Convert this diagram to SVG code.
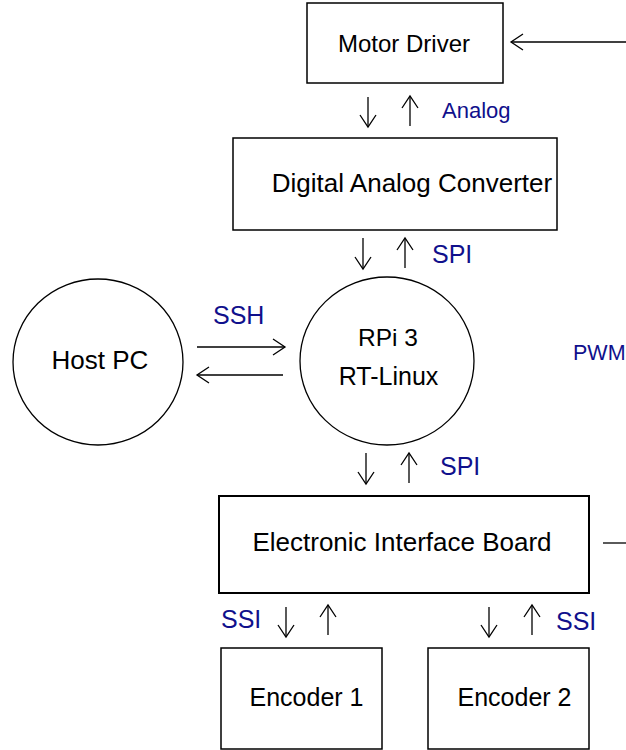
<svg xmlns="http://www.w3.org/2000/svg" width="626" height="750" viewBox="0 0 626 750">
  <style>
    .box { fill: #ffffff; stroke: #000000; stroke-width: 1.5; }
    .thick { stroke-width: 2; }
    .circ { fill: #ffffff; stroke: #000000; stroke-width: 1.3; }
    .lbl { font-family: "Liberation Sans", Arial, sans-serif; fill: #000000; }
    .sig { font-family: "Liberation Sans", Arial, sans-serif; fill: #10108c; }
    .mid { text-anchor: middle; }
    .wire { stroke: #000000; stroke-width: 1.3; fill: none; }
    .arr { marker-end: url(#head); }
  </style>
  <defs>
    <marker id="head" markerUnits="userSpaceOnUse" markerWidth="20" markerHeight="20" viewBox="-14 -10 16 20" refX="0" refY="0" orient="auto">
      <path d="M -12 -8 L 0 0 L -12 8" fill="none" stroke="#000000" stroke-width="1.3"/>
    </marker>
  </defs>
  <rect width="626" height="750" fill="#ffffff"/>

  <g id="motor-driver">
    <rect class="box" x="307" y="3" width="196" height="80"/>
    <text class="lbl mid" x="404" y="52" font-size="24">Motor Driver</text>
  </g>
  <g id="dac">
    <rect class="box" x="233" y="138" width="324" height="92"/>
    <text class="lbl mid" x="412" y="192" font-size="26">Digital Analog Converter</text>
  </g>
  <g id="host-pc">
    <ellipse class="circ" cx="98" cy="362" rx="85" ry="83"/>
    <text class="lbl mid" x="100" y="369" font-size="26">Host PC</text>
  </g>
  <g id="rpi">
    <ellipse class="circ" cx="387" cy="361" rx="87" ry="84"/>
    <text class="lbl mid" x="388" y="346" font-size="24.5">RPi 3</text>
    <text class="lbl mid" x="388.5" y="385" font-size="25">RT-Linux</text>
  </g>
  <g id="interface-board">
    <rect class="box thick" x="219" y="496" width="370" height="97"/>
    <text class="lbl mid" x="402" y="551" font-size="26">Electronic Interface Board</text>
  </g>
  <g id="encoder-1">
    <rect class="box" x="221" y="648" width="161" height="101"/>
    <text class="lbl mid" x="306.5" y="706" font-size="25">Encoder 1</text>
  </g>
  <g id="encoder-2">
    <rect class="box" x="428" y="648" width="161" height="101"/>
    <text class="lbl mid" x="514.5" y="706" font-size="25">Encoder 2</text>
  </g>

  <g id="connectors">
    <line class="wire arr" x1="626" y1="42" x2="511" y2="42"/>
    <line class="wire arr" x1="368" y1="97" x2="368" y2="127"/>
    <line class="wire arr" x1="410" y1="126" x2="410" y2="96"/>
    <line class="wire arr" x1="363" y1="238" x2="363" y2="269"/>
    <line class="wire arr" x1="405" y1="268" x2="405" y2="238"/>
    <line class="wire arr" x1="197" y1="347" x2="285" y2="347"/>
    <line class="wire arr" x1="283" y1="375" x2="197" y2="375"/>
    <line class="wire arr" x1="366" y1="453" x2="366" y2="484"/>
    <line class="wire arr" x1="409" y1="483" x2="409" y2="453"/>
    <line class="wire" x1="603" y1="543" x2="626" y2="543"/>
    <line class="wire arr" x1="286" y1="607" x2="286" y2="637"/>
    <line class="wire arr" x1="328" y1="635" x2="328" y2="605"/>
    <line class="wire arr" x1="489" y1="607" x2="489" y2="637"/>
    <line class="wire arr" x1="532" y1="635" x2="532" y2="605"/>
  </g>

  <g id="signal-labels">
    <text class="sig" x="442" y="118" font-size="22">Analog</text>
    <text class="sig" x="432" y="263" font-size="25">SPI</text>
    <text class="sig" x="213" y="324" font-size="25">SSH</text>
    <text class="sig" x="573" y="360" font-size="21.5">PWM</text>
    <text class="sig" x="440" y="475" font-size="25">SPI</text>
    <text class="sig" x="221" y="628" font-size="25">SSI</text>
    <text class="sig" x="556" y="630" font-size="25">SSI</text>
  </g>
</svg>
